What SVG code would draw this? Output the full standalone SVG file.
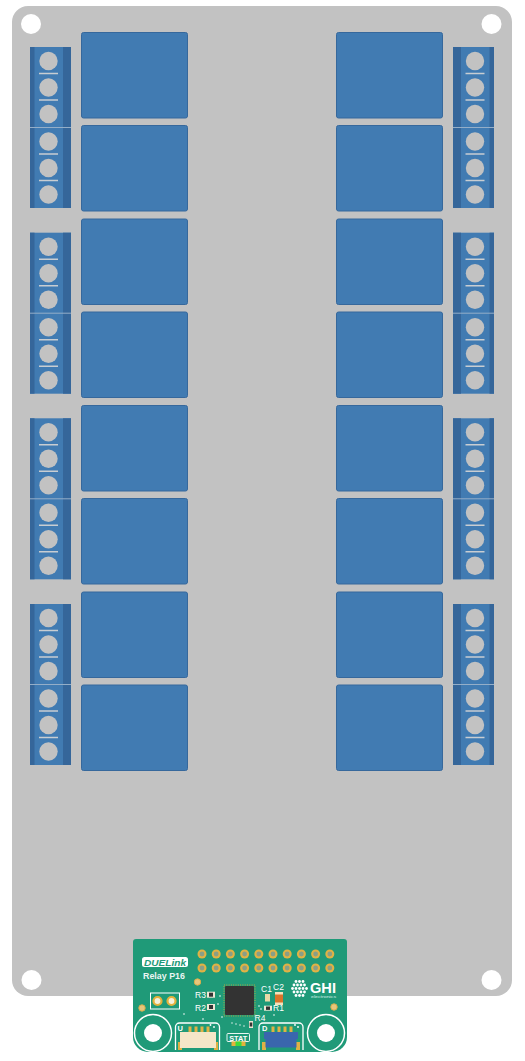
<svg xmlns="http://www.w3.org/2000/svg" width="525" height="1061" viewBox="0 0 525 1061">
<style>
.blue{fill:#417bb2}.dk{fill:#35669a}.rel{fill:#417bb2;stroke:#36689c;stroke-width:1}
.sc{fill:#c2c2c2}.ln{stroke:#c8cdd2;stroke-width:1.500;fill:none}
.ln2{stroke:#94aec8;stroke-width:1;fill:none}
.hole{fill:#fff}
.gold{fill:#e0b244}.pin{fill:#8a9f86}
.wl{fill:none;stroke:#fff;stroke-width:1.300}
.ring{fill:none;stroke:#fff;stroke-width:1.500}
.t{font-family:"Liberation Sans",Arial,sans-serif;fill:#fff;font-weight:700}
.d{font-family:"Liberation Sans",Arial,sans-serif;fill:#fff;font-weight:400}
.dot{fill:#fff}
.lp{fill:#e6c67c;stroke:#d9ad48;stroke-width:1}
.res{fill:#eee7d4}.blk{fill:#333}
</style>
<defs>
<g id="pad"><circle r="4.500" class="gold"/><circle r="2.400" class="pin"/></g>
<rect id="relay" width="106" height="85.500" rx="2" class="rel"/>
<g id="term-l"><rect width="41" height="161" class="blue"/><rect width="4.500" height="161" class="dk"/><rect x="33" width="8" height="161" class="dk"/>
<circle cx="18.500" cy="14" r="9.200" class="sc"/><circle cx="18.500" cy="40.500" r="9.200" class="sc"/><circle cx="18.500" cy="67" r="9.200" class="sc"/><circle cx="18.500" cy="94.500" r="9.200" class="sc"/><circle cx="18.500" cy="121" r="9.200" class="sc"/><circle cx="18.500" cy="147.500" r="9.200" class="sc"/><path class="ln" d="M9 26.500h19M9 53h19M9 107h19M9 133.500h19"/><path class="ln2" d="M0 80.500h41"/></g>
<g id="term-r"><rect width="41" height="161" class="blue"/><rect width="8" height="161" class="dk"/><rect x="36.500" width="4.500" height="161" class="dk"/>
<circle cx="22" cy="14" r="9.200" class="sc"/><circle cx="22" cy="40.500" r="9.200" class="sc"/><circle cx="22" cy="67" r="9.200" class="sc"/><circle cx="22" cy="94.500" r="9.200" class="sc"/><circle cx="22" cy="121" r="9.200" class="sc"/><circle cx="22" cy="147.500" r="9.200" class="sc"/><path class="ln" d="M12.500 26.500h19M12.500 53h19M12.500 107h19M12.500 133.500h19"/><path class="ln2" d="M0 80.500h41"/></g>
</defs>
<rect width="525" height="1061" fill="#fff"/>
<g id="base-board">
<rect x="12" y="6" width="500" height="990" rx="16" fill="#c2c2c2"/>
<circle cx="31" cy="24" r="10" class="hole"/><circle cx="491.500" cy="24" r="10" class="hole"/>
<circle cx="31.500" cy="980" r="10" class="hole"/><circle cx="491.500" cy="980" r="10" class="hole"/>
</g>
<g id="relays-left">
<use href="#relay" x="81.500" y="32.500"/><use href="#relay" x="81.500" y="125.500"/><use href="#relay" x="81.500" y="219"/><use href="#relay" x="81.500" y="312"/><use href="#relay" x="81.500" y="405.500"/><use href="#relay" x="81.500" y="498.500"/><use href="#relay" x="81.500" y="592"/><use href="#relay" x="81.500" y="685"/>
</g>
<g id="relays-right">
<use href="#relay" x="336.500" y="32.500"/><use href="#relay" x="336.500" y="125.500"/><use href="#relay" x="336.500" y="219"/><use href="#relay" x="336.500" y="312"/><use href="#relay" x="336.500" y="405.500"/><use href="#relay" x="336.500" y="498.500"/><use href="#relay" x="336.500" y="592"/><use href="#relay" x="336.500" y="685"/>
</g>
<g id="terminals-left">
<use href="#term-l" x="30" y="47"/><use href="#term-l" x="30" y="232.700"/><use href="#term-l" x="30" y="418.300"/><use href="#term-l" x="30" y="604"/>
</g>
<g id="terminals-right">
<use href="#term-r" x="453" y="47"/><use href="#term-r" x="453" y="232.700"/><use href="#term-r" x="453" y="418.300"/><use href="#term-r" x="453" y="604"/>
</g>
<g id="duelink-module">
<path d="M136 939h208a3 3 0 0 1 3 3v95a15 15 0 0 1-15 15H148a15 15 0 0 1-15-15V942a3 3 0 0 1 3-3z" fill="#1f9a78"/>
<g id="pads">
<use href="#pad" x="202" y="954"/><use href="#pad" x="216.200" y="954"/><use href="#pad" x="230.400" y="954"/><use href="#pad" x="244.600" y="954"/><use href="#pad" x="258.800" y="954"/><use href="#pad" x="273" y="954"/><use href="#pad" x="287.200" y="954"/><use href="#pad" x="301.400" y="954"/><use href="#pad" x="315.600" y="954"/><use href="#pad" x="329.800" y="954"/>
<use href="#pad" x="202" y="968"/><use href="#pad" x="216.200" y="968"/><use href="#pad" x="230.400" y="968"/><use href="#pad" x="244.600" y="968"/><use href="#pad" x="258.800" y="968"/><use href="#pad" x="273" y="968"/><use href="#pad" x="287.200" y="968"/><use href="#pad" x="301.400" y="968"/><use href="#pad" x="315.600" y="968"/><use href="#pad" x="329.800" y="968"/>
</g>
<circle cx="197.500" cy="982" r="3.200" class="lp"/><circle cx="142" cy="1008" r="3.200" class="lp"/><circle cx="334" cy="1007" r="3.200" class="lp"/>
<g id="logo"><rect x="142" y="957" width="46" height="10" rx="2.500" fill="#fff"/>
<text x="144" y="965.500" font-family="Liberation Sans,Arial,sans-serif" font-weight="700" fill="#1f9a78" font-size="9.500" font-style="italic" textLength="42" lengthAdjust="spacingAndGlyphs">DUELink</text></g>
<text x="143" y="979" class="t" font-size="8.500" textLength="42" lengthAdjust="spacingAndGlyphs" fill-opacity=".92">Relay P16</text>
<g id="jumper"><rect x="150.500" y="993" width="29" height="16" fill="none" stroke="#fff" stroke-width="1"/>
<circle cx="157.500" cy="1001" r="4" fill="#f4f1dc" stroke="#e4b23c" stroke-width="2.200"/><circle cx="171.500" cy="1001" r="4" fill="#f4f1dc" stroke="#e4b23c" stroke-width="2.200"/></g>
<g id="mount-left"><circle cx="153" cy="1033" r="18.500" class="ring"/><circle cx="153" cy="1033" r="9" class="hole"/></g>
<g id="mount-right"><circle cx="326" cy="1033" r="18.500" class="ring"/><circle cx="326" cy="1033" r="9" class="hole"/></g>
<g id="chip"><rect x="225" y="986" width="29" height="29" rx="1" fill="#333"/>
<path d="M224 985h31v31h-31z" fill="none" stroke="#c9a83a" stroke-width="0.900" stroke-dasharray="1 1.300"/></g>
<g id="parts">
<text x="195" y="998" class="d" font-size="8.500">R3</text><rect x="207" y="991.700" width="8" height="6" class="res"/><rect x="209" y="992.700" width="4" height="4" class="blk"/>
<text x="195" y="1010.500" class="d" font-size="8.500">R2</text><rect x="207" y="1004" width="8" height="6" class="res"/><rect x="209" y="1005" width="4" height="4" class="blk"/>
<text x="261" y="992" class="d" font-size="8.500">C1</text><text x="273" y="990" class="d" font-size="8.500">C2</text>
<rect x="265" y="994" width="5" height="7.500" fill="#e8d9a8"/>
<rect x="275" y="992" width="8" height="13" fill="#f2e3bd"/><rect x="275" y="994.500" width="8" height="8" fill="#d9742a"/>
<rect x="264" y="1005.700" width="8" height="5" class="res"/><rect x="266" y="1006.500" width="4" height="3.400" class="blk"/>
<text x="273" y="1011" class="d" font-size="8.500">R1</text>
<text x="254.500" y="1021" class="d" font-size="8.500">R4</text>
<rect x="249" y="1021" width="4" height="7" class="res"/><rect x="249.700" y="1022.500" width="2.600" height="4" class="blk"/>
<circle cx="232" cy="1023" r="0.700" class="dot"/><circle cx="236" cy="1024" r="0.700" class="dot"/><circle cx="240" cy="1025" r="0.700" class="dot"/><circle cx="244" cy="1026" r="0.700" class="dot"/><circle cx="259" cy="1006" r="0.800" class="dot"/><circle cx="261" cy="1009" r="0.800" class="dot"/><circle cx="274" cy="1015" r="0.800" class="dot"/><circle cx="220" cy="996" r="0.800" class="dot"/><circle cx="218" cy="1004" r="0.800" class="dot"/><circle cx="184" cy="1014" r="0.800" class="dot"/><circle cx="203" cy="1019" r="0.800" class="dot"/><circle cx="222" cy="1017" r="0.800" class="dot"/>
</g>
<g id="stat"><rect x="227" y="1033.500" width="22.500" height="8" rx="1" fill="none" stroke="#fff" stroke-width="0.900"/>
<text x="238.200" y="1040.500" class="t" font-size="7" text-anchor="middle" textLength="18" lengthAdjust="spacingAndGlyphs">STAT</text>
<rect x="231.500" y="1041.500" width="14" height="4.500" fill="#e4b23c"/><rect x="235.500" y="1041.500" width="6" height="4.500" fill="#3bdc3b"/></g>
<g id="ghi-logo" fill="#fff">
<circle cx="296" cy="981.500" r="1.400"/><circle cx="299.500" cy="981.500" r="1.400"/><circle cx="303" cy="981.500" r="1.400"/>
<circle cx="294" cy="985" r="1.400"/><circle cx="297.500" cy="985" r="1.400"/><circle cx="301" cy="985" r="1.400"/><circle cx="304.500" cy="985" r="1.400"/>
<circle cx="292.500" cy="988.500" r="1.400"/><circle cx="296" cy="988.500" r="1.400"/><circle cx="299.500" cy="988.500" r="1.400"/><circle cx="303" cy="988.500" r="1.400"/><circle cx="306.500" cy="988.500" r="1.400"/>
<circle cx="294" cy="992" r="1.400"/><circle cx="297.500" cy="992" r="1.400"/><circle cx="301" cy="992" r="1.400"/><circle cx="304.500" cy="992" r="1.400"/>
<circle cx="296" cy="995.500" r="1.400"/><circle cx="299.500" cy="995.500" r="1.400"/><circle cx="303" cy="995.500" r="1.400"/>
<text x="310" y="993" class="t" font-size="15.500" textLength="26" lengthAdjust="spacingAndGlyphs">GHI</text>
<text x="311" y="998" font-family="Liberation Sans,Arial,sans-serif" font-size="4" fill="#d5efe6" textLength="25" lengthAdjust="spacingAndGlyphs">electronics</text></g>
<g id="conn-u"><path d="M175.500 1050v-23a4 4 0 0 1 4-4h36a4 4 0 0 1 4 4v23" class="wl"/>
<text x="177.500" y="1031" class="t" font-size="7.500">U</text>
<path class="gold" d="M188.500 1026.500h3v6h-3zM194.500 1026.500h3v6h-3zM200.500 1026.500h3v6h-3zM206.500 1026.500h3v6h-3z"/>
<path class="gold" d="M178 1042h4v8h-4zM214 1042h4v8h-4z"/>
<path d="M180 1032h36v16h-36z" fill="#f5e6c8"/>
<circle cx="210.500" cy="1025" r="0.900" class="dot"/><circle cx="214" cy="1027" r="0.900" class="dot"/></g>
<g id="conn-d"><path d="M259 1050v-23a4 4 0 0 1 4-4h36a4 4 0 0 1 4 4v23" class="wl"/>
<text x="262" y="1031" class="t" font-size="7.500">D</text>
<path class="gold" d="M271.500 1026.500h3v6h-3zM277.500 1026.500h3v6h-3zM283.500 1026.500h3v6h-3zM289.500 1026.500h3v6h-3z"/>
<path class="gold" d="M262 1042h4v8h-4zM296 1042h4v8h-4z"/>
<path d="M264 1032h34v7h-1.500v8.500h-31v-8.500h-1.500z" fill="#3a66ad"/>
<circle cx="295" cy="1025" r="0.900" class="dot"/><circle cx="298" cy="1027" r="0.900" class="dot"/></g>
</g>
</svg>
